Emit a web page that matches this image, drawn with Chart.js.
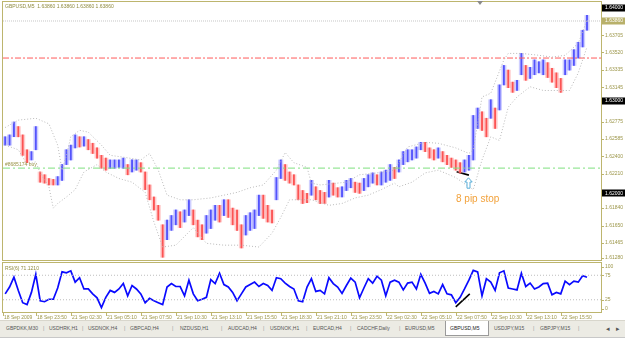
<!DOCTYPE html>
<html><head><meta charset="utf-8">
<script src="https://cdn.jsdelivr.net/npm/chart.js@4/dist/chart.umd.min.js"></script>
<style>
html,body{margin:0;padding:0;background:#fff;width:625px;height:340px;overflow:hidden;font-family:"Liberation Sans",Arial,sans-serif;}
canvas{position:absolute;}
#main{left:1px;top:1px;}
#rsi{left:1px;top:262px;}
.t{position:absolute;white-space:nowrap;line-height:1;}
#tabs{position:absolute;left:0;top:320px;width:625px;height:16px;background:#ecebe4;border-top:1px solid #d8d6cc;}
#tabs span{position:absolute;top:5px;font-size:5px;color:#555;white-space:nowrap;line-height:1;}
#tabs .act{position:absolute;top:0px;height:14px;background:#fff;border:1px solid #9a9a9a;border-top:none;}
#bottom{position:absolute;left:0;top:337px;width:625px;height:3px;background:#fff;border-top:1px solid #c8c8c8;}
</style></head><body>
<canvas id="main" width="624" height="260"></canvas>
<canvas id="rsi" width="624" height="64"></canvas>

<div class="t" style="left:5px;top:4px;font-size:5px;color:#8f8a3e;">GBPUSD,M5&nbsp; 1.63860 1.63860 1.63860 1.63860</div>
<div class="t" style="left:5px;top:162px;font-size:5px;color:#9a9448;">#8685174 buy</div>
<div class="t" style="left:5px;top:266px;font-size:5px;color:#8f8a3e;">RSI(6) 71.1210</div>
<div class="t" style="left:456px;top:194px;font-size:10px;color:#f2a23c;">8 pip stop</div>
<svg style="position:absolute;left:464px;top:177px;" width="9" height="12" viewBox="0 0 9 12">
  <path d="M4.5 0.8 L8.2 5 L6 5 L6 11.2 L3 11.2 L3 5 L0.8 5 Z" fill="#fff" stroke="#5aaed8" stroke-width="1"/>
</svg>
<div style="position:absolute;left:477px;top:1px;width:0;height:0;border-left:3px solid transparent;border-right:3px solid transparent;border-top:4px solid #8a8a8a;"></div>

<div id="tabs"></div>
<div id="bottom"></div>

<script>
// ---------- data ----------
// price bars, one column = 20 minutes (4 M5 bars), high and low of each column
const HI = [1.6261,1.6263,1.6277,1.6272,1.6263,1.6247,1.6245,1.6272,1.6223,1.6220,
1.6216,1.6215,1.6218,1.6231,1.6247,1.6252,1.6263,1.6261,1.6261,1.6258,
1.6254,1.6249,1.6241,1.6238,1.6236,1.6236,1.6236,1.6238,1.6231,1.6236,
1.6236,1.6233,1.6223,1.6209,1.6196,1.6187,1.6166,1.6171,1.6176,1.6182,
1.6180,1.6182,1.6193,1.6182,1.6171,1.6166,1.6176,1.6182,1.6187,1.6187,
1.6193,1.6193,1.6184,1.6182,1.6166,1.6176,1.6179,1.6182,1.6198,1.6198,
1.6187,1.6182,1.6217,1.6236,1.6231,1.6223,1.6220,1.6209,1.6203,1.6200,
1.6214,1.6207,1.6203,1.6201,1.6214,1.6211,1.6206,1.6207,1.6214,1.6216,
1.6212,1.6211,1.6216,1.6220,1.6222,1.6220,1.6223,1.6225,1.6231,1.6228,
1.6236,1.6245,1.6247,1.6247,1.6250,1.6255,1.6255,1.6249,1.6247,1.6249,
1.6245,1.6241,1.6238,1.6236,1.6233,1.6236,1.6241,1.6284,1.6292,1.6288,
1.6281,1.6301,1.6292,1.6317,1.6338,1.6333,1.6320,1.6322,1.6351,1.6338,
1.6336,1.6344,1.6342,1.6344,1.6341,1.6335,1.6330,1.6324,1.6344,1.6344,
1.6355,1.6363,1.6376,1.6392];
const LO = [1.6252,1.6252,1.6261,1.6261,1.6241,1.6233,1.6236,1.6247,1.6212,1.6211,
1.6209,1.6209,1.6209,1.6214,1.6231,1.6236,1.6249,1.6250,1.6251,1.6247,
1.6243,1.6238,1.6227,1.6225,1.6227,1.6227,1.6228,1.6227,1.6220,1.6223,
1.6225,1.6223,1.6204,1.6193,1.6182,1.6171,1.6131,1.6150,1.6160,1.6166,
1.6163,1.6169,1.6176,1.6166,1.6153,1.6150,1.6157,1.6162,1.6171,1.6169,
1.6176,1.6174,1.6166,1.6160,1.6141,1.6155,1.6160,1.6162,1.6176,1.6173,
1.6169,1.6168,1.6193,1.6216,1.6214,1.6211,1.6209,1.6193,1.6189,1.6190,
1.6198,1.6193,1.6189,1.6189,1.6196,1.6198,1.6196,1.6196,1.6203,1.6206,
1.6201,1.6200,1.6203,1.6207,1.6211,1.6209,1.6209,1.6212,1.6214,1.6216,
1.6223,1.6231,1.6234,1.6236,1.6238,1.6247,1.6245,1.6238,1.6236,1.6238,
1.6234,1.6231,1.6228,1.6225,1.6222,1.6223,1.6225,1.6236,1.6270,1.6268,
1.6261,1.6281,1.6270,1.6290,1.6317,1.6314,1.6309,1.6311,1.6328,1.6322,
1.6324,1.6328,1.6330,1.6328,1.6325,1.6320,1.6314,1.6309,1.6328,1.6333,
1.6338,1.6346,1.6358,1.6376];
// RSI(6) per column
const RSI = [37,51,71,44,19,15,40,77,23,21,
26,26,49,82,80,84,61,70,47,47,
37,29,9,30,44,40,47,58,33,54,
47,37,19,28,23,19,15,51,58,52,
52,33,65,37,23,26,30,66,58,79,
56,51,40,23,37,51,56,61,52,58,
54,44,70,68,59,52,47,23,21,51,
68,42,44,37,70,58,51,38,54,69,
61,29,49,68,59,73,65,33,61,65,
61,45,59,61,47,77,59,38,42,37,
56,37,35,19,30,47,65,85,82,33,
68,61,44,80,84,49,47,45,79,52,
59,47,51,58,59,35,40,37,63,56,
63,61,74,71];
// Bollinger band envelopes [column, price]
const BB_UP = [[0,1.6271],[3,1.6279],[7,1.6281],[10,1.6275],[12,1.6252],[13,1.6225],[14,1.6241],[15,1.6261],
[17,1.6268],[19,1.6266],[22,1.6252],[24,1.6241],[27,1.6239],[31,1.6236],[33,1.6243],[35,1.6225],[37,1.6198],
[40,1.6193],[43,1.6193],[47,1.6195],[50,1.6198],[53,1.6201],[56,1.6206],[59,1.6209],[62,1.6225],[64,1.6244],
[66,1.6233],[69,1.6228],[70,1.6211],[72,1.6209],[78,1.6212],[81,1.6220],[85,1.6222],[89,1.6225],[92,1.6250],
[96,1.6255],[99,1.6254],[103,1.6249],[106,1.6243],[107,1.6247],[109,1.6304],[111,1.6308],[114,1.6344],
[115,1.6351],[118,1.6351],[122,1.6349],[125,1.6347],[128,1.6349],[131,1.6362],[133,1.6387]];
const BB_LO = [[0,1.6252],[3,1.6247],[5,1.6231],[7,1.6234],[8,1.6222],[10,1.6207],[11,1.6184],[12,1.6189],
[14,1.6196],[16,1.6204],[18,1.6223],[21,1.6231],[23,1.6223],[26,1.6216],[29,1.6212],[32,1.6201],[34,1.6169],
[36,1.6142],[39,1.6144],[43,1.6163],[46,1.6146],[50,1.6144],[54,1.6144],[58,1.6142],[61,1.6157],[63,1.6174],
[65,1.6193],[67,1.6193],[70,1.6193],[74,1.6187],[77,1.6189],[80,1.6195],[83,1.6198],[86,1.6204],[89,1.6211],
[90,1.6207],[93,1.6212],[96,1.6222],[99,1.6225],[103,1.6217],[106,1.6207],[107,1.6204],[109,1.6236],
[111,1.6261],[113,1.6257],[115,1.6293],[117,1.6304],[120,1.6315],[123,1.6311],[126,1.6311],[129,1.6311],
[131,1.6330],[133,1.6358]];
// levels
const BID = 1.63860;
const STOP_LEVEL = 1.63460;
const ORDER_LEVEL = 1.62272;
const PRICE_TREND = [[103.2,1.62232],[106.0,1.62196]];
const RSI_TREND = [[103.0,10.4],[106.2,36.9]];
const RSI_LEVELS = [75,25];
// axis labels
const PRICE_TICKS = [1.63705,1.63520,1.63335,1.63145,1.62775,1.62585,1.62400,1.62210,1.61840,1.61650,1.61465,1.61280];
const PRICE_MARKS = [[1.64000,'#000000','#ffffff'],[1.63860,'#b8b06a','#ffffff'],[1.63000,'#000000','#ffffff'],[1.62000,'#000000','#ffffff']];
const RSI_TICKS = [100,75,25,0];
const TIME_TICKS = [-0.5,7,15,23,31,39,47,55,63,71,79,87,95,103,111,119,127];
const TIME_LABELS = ['18 Sep 2009','18 Sep 23:50','21 Sep 02:30','21 Sep 05:10','21 Sep 07:50','21 Sep 10:30',
'21 Sep 13:10','21 Sep 15:50','21 Sep 18:30','21 Sep 21:10','21 Sep 23:50','22 Sep 02:30','22 Sep 05:10',
'22 Sep 07:50','22 Sep 10:30','22 Sep 13:10','22 Sep 15:50'];
const TABS = [['GBPDKK,M30',6],['USDHRK,H1',49],['USDNOK,H4',88],['GBPCAD,H4',130],['NZDUSD,H1',180],
['AUDCAD,H4',228],['USDNOK,H1',270],['EURCAD,H4',313],['CADCHF,Daily',357],['EURUSD,M5',405],
['GBPUSD,M5',450],['USDJPY,M15',494],['GBPJPY,M15',540]];
const TAB_SEPS = [43,82,124,172,221,263,306,350,399,533,578];
const ACTIVE_TAB = 'GBPUSD,M5';

const XMIN = -0.5, XMAX = 136.2;
const YMIN = 1.61280, YMAX = 1.64065;
const OLIVE = '#bdb56e', OLIVE_TXT = '#9b9548';
const FONT = '5px "Liberation Sans", Arial, sans-serif';

// ---------- tabs ----------
const tabs = document.getElementById('tabs');
TABS.forEach(([t,x])=>{
  if (t===ACTIVE_TAB){ const b=document.createElement('div'); b.className='act'; b.style.left=(x-5)+'px'; b.style.width='42px'; tabs.appendChild(b); }
  const s=document.createElement('span'); s.textContent=t; s.style.left=x+'px';
  if (t===ACTIVE_TAB) s.style.color='#222';
  tabs.appendChild(s);
});
TAB_SEPS.forEach(x=>{const s=document.createElement('span'); s.textContent='|'; s.style.left=x+'px'; s.style.color='#999'; tabs.appendChild(s);});
[['\u25C2',606],['\u25B8',616]].forEach(([t,x])=>{const s=document.createElement('span'); s.textContent=t; s.style.left=x+'px'; s.style.fontSize='7px'; s.style.top='4px'; tabs.appendChild(s);});

// ---------- charts ----------
const pts = a => a.map(([x,y])=>({x,y}));
const up = HI.map((h,i)=> i===0 || (h+LO[i]) >= (HI[i-1]+LO[i-1]));
const lightColors = up.map(u=> u ? 'rgba(130,130,255,0.38)' : 'rgba(255,130,130,0.38)');
const darkColors = up.map(u=> u ? 'rgba(55,55,250,1)' : 'rgba(250,55,55,1)');
const lineDs = (data,color,dash,w)=>({type:'line',data,borderColor:color,borderDash:dash,borderWidth:w,pointRadius:0,fill:false,tension:0});
const rangeData = HI.map((h,i)=>({x:i,y:[LO[i],h]}));

const mainPlugin = {
  id:'mainAxis',
  afterDraw(chart){
    const {ctx, chartArea:a, scales:{y}} = chart;
    ctx.save();
    ctx.strokeStyle = OLIVE; ctx.lineWidth = 1;
    ctx.strokeRect(a.left-0.5, a.top-0.5, a.right-a.left+1, a.bottom-a.top+1);
    ctx.font = FONT; ctx.textBaseline='middle'; ctx.textAlign='left';
    PRICE_TICKS.forEach(v=>{
      const py = Math.min(a.bottom-2, y.getPixelForValue(v));
      ctx.beginPath(); ctx.moveTo(a.right, Math.round(py)+0.5); ctx.lineTo(a.right+3, Math.round(py)+0.5); ctx.stroke();
      ctx.fillStyle = OLIVE_TXT; ctx.fillText(v.toFixed(5), a.right+4, py);
    });
    PRICE_MARKS.forEach(([v,bg,fg])=>{
      const py = Math.max(a.top+4, y.getPixelForValue(v));
      ctx.fillStyle = bg; ctx.fillRect(a.right+1, Math.round(py)-3.5, 24, 7);
      ctx.fillStyle = fg; ctx.fillText(v.toFixed(5), a.right+4, py);
    });
    ctx.restore();
  }
};

new Chart(document.getElementById('main'), {
  type:'bar',
  data:{datasets:[
    lineDs(pts(BB_UP),'#b9b9b9',[1,2],1),
    lineDs(pts(BB_LO),'#b9b9b9',[1,2],1),
    lineDs([{x:XMIN,y:BID},{x:XMAX,y:BID}],'#c6c6c6',[1,1],1),
    lineDs([{x:XMIN,y:STOP_LEVEL},{x:XMAX,y:STOP_LEVEL}],'#ff5a5a',[6,2,2,2],1),
    lineDs([{x:XMIN,y:ORDER_LEVEL},{x:XMAX,y:ORDER_LEVEL}],'#7ee07e',[7,3,2,3],1),
    {type:'bar', data:rangeData, backgroundColor:lightColors, borderWidth:0, barPercentage:1, categoryPercentage:1, grouped:false},
    {type:'bar', data:rangeData, backgroundColor:darkColors, borderWidth:0, barThickness:1.2, grouped:false},
    lineDs(pts(PRICE_TREND),'#000000',[],1.6)
  ]},
  options:{
    responsive:false, animation:false, devicePixelRatio:1,
    layout:{padding:{left:2,top:1,right:24,bottom:1}},
    plugins:{legend:{display:false},tooltip:{enabled:false}},
    scales:{
      x:{type:'linear',min:XMIN,max:XMAX,offset:false,display:false,grid:{offset:false}},
      y:{type:'linear',min:YMIN,max:YMAX,display:false,beginAtZero:false}
    }
  },
  plugins:[mainPlugin]
});

const rsiPlugin = {
  id:'rsiAxis',
  afterDraw(chart){
    const {ctx, chartArea:a, scales:{x,y}} = chart;
    ctx.save();
    ctx.strokeStyle = OLIVE; ctx.lineWidth = 1;
    ctx.strokeRect(a.left-0.5, a.top-0.5, a.right-a.left+1, a.bottom-a.top+1);
    ctx.font = FONT; ctx.fillStyle = OLIVE_TXT; ctx.textBaseline='middle'; ctx.textAlign='left';
    RSI_TICKS.forEach(v=>{
      const py = Math.max(a.top+4, Math.min(a.bottom-3, y.getPixelForValue(v)));
      ctx.beginPath(); ctx.moveTo(a.right, Math.round(py)+0.5); ctx.lineTo(a.right+3, Math.round(py)+0.5); ctx.stroke();
      ctx.fillText(String(v), a.right+4, py);
    });
    TIME_TICKS.forEach((t,i)=>{
      const px = Math.round(x.getPixelForValue(t));
      ctx.beginPath(); ctx.moveTo(px+0.5, a.bottom+1); ctx.lineTo(px+0.5, a.bottom+4); ctx.stroke();
      ctx.fillText(TIME_LABELS[i], px+1, a.bottom+6);
    });
    ctx.restore();
  }
};

new Chart(document.getElementById('rsi'), {
  type:'line',
  data:{datasets:[
    lineDs([{x:XMIN,y:RSI_LEVELS[0]},{x:XMAX,y:RSI_LEVELS[0]}],'#bdbdbd',[1,2],1),
    lineDs([{x:XMIN,y:RSI_LEVELS[1]},{x:XMAX,y:RSI_LEVELS[1]}],'#bdbdbd',[1,2],1),
    lineDs(RSI.map((v,i)=>({x:i,y:v})),'#0a0aff',[],1.7),
    lineDs(pts(RSI_TREND),'#000000',[],1.6)
  ]},
  options:{
    responsive:false, animation:false, devicePixelRatio:1,
    layout:{padding:{left:2,top:1,right:24,bottom:14}},
    plugins:{legend:{display:false},tooltip:{enabled:false}},
    scales:{
      x:{type:'linear',min:XMIN,max:XMAX,display:false},
      y:{type:'linear',min:0,max:100,display:false}
    }
  },
  plugins:[rsiPlugin]
});
</script>
</body></html>
